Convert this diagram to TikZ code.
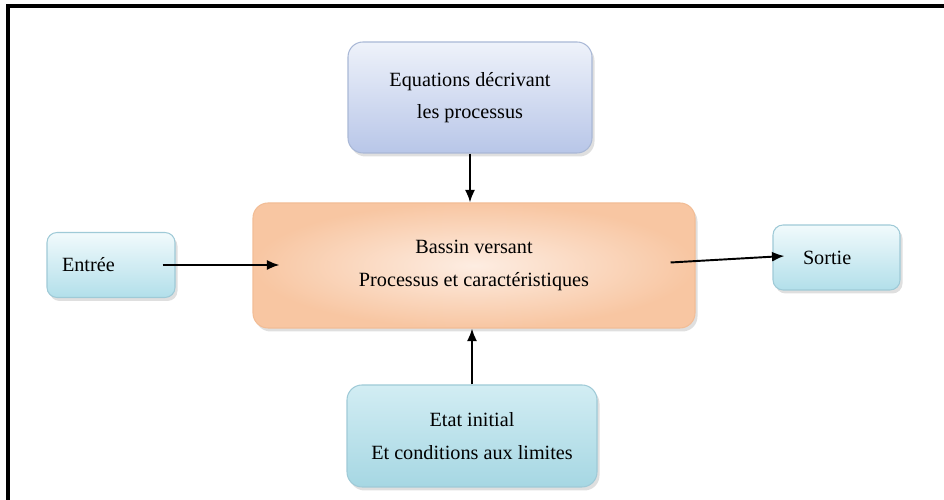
\documentclass[tikz,border=0pt]{standalone}
\usepackage{fontspec}
\setmainfont{Liberation Serif}
\usetikzlibrary{arrows.meta,shadows}

\definecolor{eqtop}{HTML}{EEF2FA}
\definecolor{eqbot}{HTML}{B8C6E8}
\definecolor{eqline}{HTML}{A9B8D6}
\definecolor{iotop}{HTML}{F1FAFC}
\definecolor{iobot}{HTML}{B2DFEA}
\definecolor{ioline}{HTML}{9FCAD7}
\definecolor{bvin}{HTML}{FDEDE2}
\definecolor{bvout}{HTML}{F8C6A2}
\definecolor{bvline}{HTML}{F2BD96}
\definecolor{cltop}{HTML}{D2EDF3}
\definecolor{clbot}{HTML}{A6D7E3}

\tikzset{
  blk/.style={rounded corners=0.3cm, line width=0.6pt, align=center,
    drop shadow={shadow xshift=0.05cm, shadow yshift=-0.07cm, opacity=0.25}},
  iobox/.style={blk, rounded corners=0.2cm, draw=ioline, top color=iotop,
    bottom color=iobot, minimum height=1.3cm, align=left},
  arr/.style={-{Latex[length=0.25cm, width=0.2cm]}, line width=1.1pt}
}

\begin{document}
\begin{tikzpicture}[font=\fontsize{11.5}{18.5}\selectfont]
  \useasboundingbox (0, 0) rectangle (18.88, 10);
  % Frame
  \draw[line width=2pt] (0.16, 0) -- (0.16, 9.88) -- (18.88, 9.88);

  % Catchment box
  \node[blk, draw=bvline, inner color=bvin, outer color=bvout,
    minimum width=8.84cm, minimum height=2.5cm] (bassin) at (9.48, 4.69)
    {Bassin versant\\Processus et caractéristiques};

  % Equations on top
  \node[blk, draw=eqline, top color=eqtop, bottom color=eqbot,
    minimum width=4.88cm, minimum height=2.22cm] (equations) at (9.40, 8.05)
    {Equations décrivant\\les processus};

  % Initial and boundary conditions below
  \node[blk, draw=ioline, top color=cltop, bottom color=clbot,
    minimum width=5.0cm, minimum height=2.04cm] (etat) at (9.44, 1.28)
    {Etat initial\\Et conditions aux limites};

  % Input and output
  \node[iobox, inner xsep=0.3cm, text width=1.96cm] (entree) at (2.22, 4.70) {Entrée};
  \node[iobox, inner xsep=0.6cm, text width=1.34cm] (sortie) at (16.73, 4.85) {Sortie};

  % Arrows
  \draw[arr] ([xshift=-0.26cm]entree.east) -- ([xshift=0.54cm]bassin.west |- entree.east);
  \draw[arr] ([xshift=-0.5cm, yshift=0.06cm]bassin.east) -- ([xshift=0.24cm, yshift=0.03cm]sortie.west);
  \draw[arr] (equations.south) -- (equations.south |- bassin.north);
  \draw[arr] (etat.north) -- (etat.north |- bassin.south);
\end{tikzpicture}
\end{document}
